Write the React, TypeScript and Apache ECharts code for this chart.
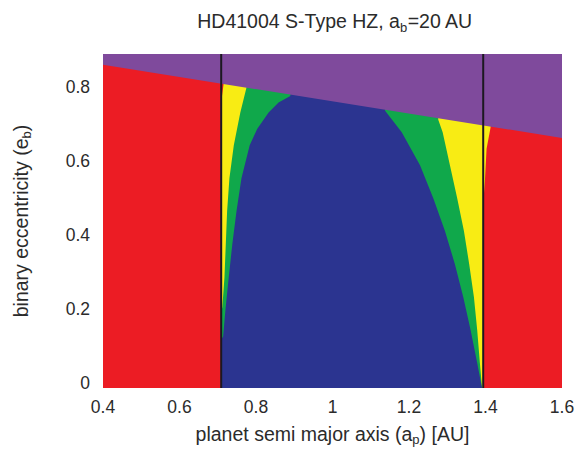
import React, { useEffect, useRef } from "react";
import * as echarts from "echarts";

// Axis ranges and tick labels
const X_MIN = 0.4;
const X_MAX = 1.6;
const Y_MIN = -0.013;
const Y_MAX = 0.89;
const yTickValues = [0, 0.2, 0.4, 0.6, 0.8];

// Vertical HZ limits (black lines)
const innerLimit = 0.709;
const outerLimit = 1.394;

// Region boundaries [a_p, e_b]
const redRegion = [
  [X_MIN, Y_MIN], [X_MAX, Y_MIN], [X_MAX, Y_MAX], [X_MIN, Y_MAX],
];

const purpleBoundary = [
  [0.4, 0.861], [1.6, 0.663],
];

const yellowRegion = [
  [0.709, Y_MIN], [0.709, 0.76], [0.7155, 0.81], [0.7155, 0.85],
  [1.415, 0.85], [1.4135, 0.6928], [1.4028, 0.634], [1.3984, 0.5457],
  [1.3957, 0.5083], [1.394, 0.49], [1.394, Y_MIN],
];

const greenRegion = [
  [0.709, 0.19], [0.712, 0.206], [0.7175, 0.286], [0.721, 0.375],
  [0.7245, 0.4655], [0.7305, 0.554], [0.742, 0.643], [0.759, 0.732],
  [0.775, 0.799], [0.78, 0.85], [1.27, 0.85], [1.2765, 0.7123],
  [1.288, 0.6786], [1.307, 0.5893], [1.326, 0.5003], [1.3436, 0.4112],
  [1.3574, 0.3219], [1.3697, 0.2329], [1.3783, 0.1439], [1.3853, 0.0545],
  [1.3905, -0.0078], [1.392, Y_MIN], [0.709, Y_MIN],
];

const blueRegion = [
  [0.709, Y_MIN], [0.709, 0.118], [0.714, 0.126], [0.72, 0.197],
  [0.7287, 0.286], [0.738, 0.375], [0.749, 0.465], [0.762, 0.554],
  [0.7835, 0.643], [0.803, 0.687], [0.833, 0.732], [0.859, 0.759],
  [0.8897, 0.7765], [0.9, 0.85], [1.13, 0.85], [1.1375, 0.7364],
  [1.181, 0.6786], [1.2288, 0.5893], [1.2635, 0.5003], [1.294, 0.4112],
  [1.32, 0.3219], [1.3418, 0.2329], [1.361, 0.1439], [1.3783, 0.0545],
  [1.3898, -0.0078], [1.391, Y_MIN],
];

const purpleRegion = [
  ...purpleBoundary, [X_MAX, Y_MAX], [X_MIN, Y_MAX],
];

const COLORS = {
  red: "#ec1c24",
  yellow: "#f8ec14",
  green: "#10a84b",
  blue: "#2b3490",
  purple: "#7f4a9c",
  line: "#1c1820",
  text: "#2b2b2b",
};

const FONT = "'Liberation Sans', Arial, sans-serif";
const TICK_SIZE = 17.5;
const TITLE_SIZE = 19.5;

function regionSeries(name: string, pts: number[][], color: string) {
  return {
    type: "custom",
    name,
    clip: true,
    silent: true,
    data: pts,
    renderItem: (params: any, api: any) => {
      if (params.dataIndex !== 0) return null;
      const points = pts.map((p) => api.coord(p));
      return {
        type: "polygon",
        shape: { points },
        style: { fill: color, stroke: null },
      };
    },
  };
}

function limitLine(x: number) {
  return {
    type: "line",
    silent: true,
    symbol: "none",
    data: [
      [x, Y_MIN],
      [x, Y_MAX],
    ],
    lineStyle: { color: COLORS.line, width: 2 },
  };
}

export default function App() {
  const ref = useRef<HTMLDivElement>(null);

  useEffect(() => {
    if (!ref.current) return;
    const chart = echarts.init(ref.current, undefined, { renderer: "svg" });
    const subStyle = {
      fontSize: 13,
      fontFamily: FONT,
      color: COLORS.text,
      lineHeight: 13,
      verticalAlign: "bottom",
    };
    chart.setOption({
      animation: false,
      backgroundColor: "#ffffff",
      grid: { left: 102, top: 54, width: 460, height: 338, containLabel: false },
      xAxis: {
        type: "value",
        min: X_MIN,
        max: X_MAX,
        interval: 0.2,
        axisLine: { show: false },
        axisTick: { show: false },
        splitLine: { show: false },
        axisLabel: {
          margin: 10,
          fontSize: TICK_SIZE,
          fontFamily: FONT,
          color: COLORS.text,
          formatter: (v: number) => String(Math.round(v * 10) / 10),
        },
        name: "planet semi major axis (a{sub|p}) [AU]",
        nameLocation: "middle",
        nameGap: 33,
        nameTextStyle: {
          fontSize: TITLE_SIZE,
          fontFamily: FONT,
          color: COLORS.text,
          lineHeight: 25,
          rich: { sub: subStyle },
        },
      },
      yAxis: {
        type: "value",
        min: Y_MIN,
        max: Y_MAX,
        axisLine: { show: false },
        axisTick: { show: false },
        splitLine: { show: false },
        axisLabel: {
          customValues: yTickValues,
          margin: 13,
          fontSize: TICK_SIZE,
          fontFamily: FONT,
          color: COLORS.text,
          formatter: (v: number) => String(Math.round(v * 10) / 10),
        },
        name: "binary eccentricity (e{sub|b})",
        nameLocation: "middle",
        nameRotate: 90,
        nameGap: 70,
        nameTextStyle: {
          fontSize: TITLE_SIZE,
          fontFamily: FONT,
          color: COLORS.text,
          lineHeight: 25,
          rich: { sub: subStyle },
        },
      },
      graphic: [
        {
          type: "text",
          x: 335,
          y: 21,
          style: {
            text: "HD41004 S-Type HZ, a{sub|b}=20 AU",
            fontSize: TITLE_SIZE,
            fontFamily: FONT,
            fill: COLORS.text,
            lineHeight: 25,
            align: "center",
            verticalAlign: "middle",
            rich: {
              sub: {
                fontSize: 13,
                fontFamily: FONT,
                fill: COLORS.text,
                lineHeight: 13,
                verticalAlign: "bottom",
              },
            },
          },
        },
      ],
      series: [
        regionSeries("red", redRegion, COLORS.red),
        regionSeries("yellow", yellowRegion, COLORS.yellow),
        regionSeries("green", greenRegion, COLORS.green),
        regionSeries("blue", blueRegion, COLORS.blue),
        regionSeries("purple", purpleRegion, COLORS.purple),
        limitLine(innerLimit),
        limitLine(outerLimit),
      ],
    });
    return () => chart.dispose();
  }, []);

  return (
    <div
      ref={ref}
      style={{ position: "fixed", left: 0, top: 0, width: 578, height: 451 }}
    />
  );
}
